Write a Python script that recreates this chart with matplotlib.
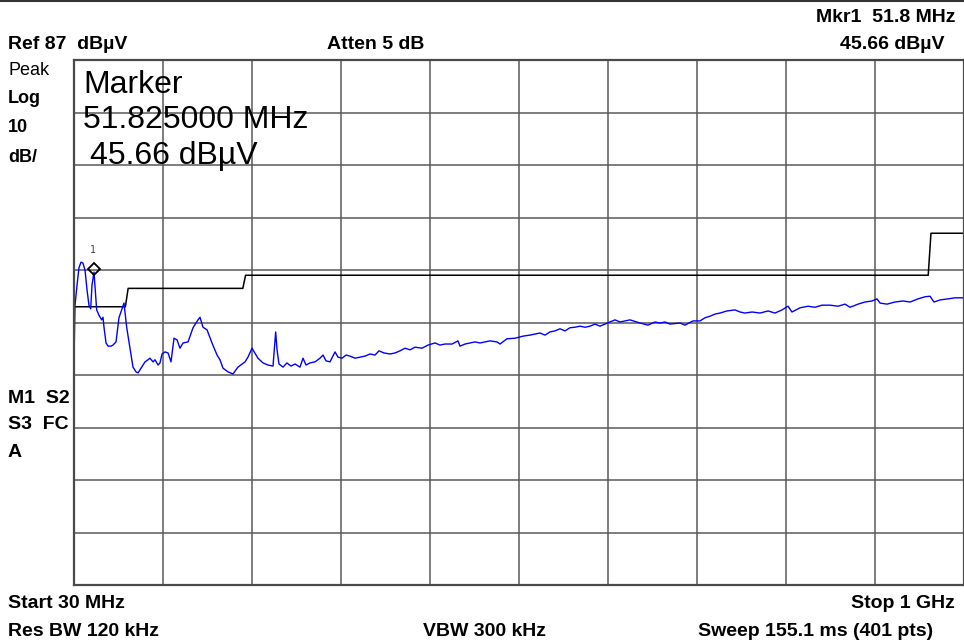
import matplotlib
matplotlib.use("Agg")
import matplotlib.pyplot as plt

plt.rcParams['font.family'] = ['Liberation Sans', 'DejaVu Sans']

# sweep trace (MHz, dBuV)
trace_freq = [30, 31.1, 33.3, 35.4, 37.6, 39.8, 42.0, 44.2, 46.3, 48.2, 49.6, 51.8,
              54.7, 57.2, 60.2, 61.6, 62.7, 64.9, 67.1, 70.3, 72.5, 75.8, 79.0, 81.2,
              84.5, 87.4, 91.0, 94.3, 97.6, 99.8, 103.8, 107.4, 110.7, 112.8, 116.1,
              118.3, 121.6, 123.7, 125.9, 129.2, 132.5, 135.7, 139.0, 142.3, 145.5,
              148.8, 154.3, 159.7, 165.1, 167.3, 170.6, 175.0, 180.4, 185.9, 189.1,
              192.4, 197.8, 203.3, 208.7, 216.4, 219.6, 224.0, 230.5, 236.0, 241.4,
              246.9, 249.8, 251.3, 253.4, 257.8, 262.1, 266.5, 270.9, 276.3, 279.6,
              282.9, 287.2, 292.7, 298.1, 301.4, 304.7, 309.0, 314.5, 317.7, 322.1,
              326.5, 330.8, 336.3, 341.7, 347.2, 352.6, 358.1, 362.4, 367.9, 374.4,
              379.9, 385.3, 390.8, 396.2, 401.7, 409.3, 415.8, 423.5, 428.9, 434.4,
              442.0, 448.5, 450.7, 456.2, 461.6, 467.1, 472.5, 478.0, 483.4, 491.0,
              494.3, 501.9, 510.6, 519.4, 527.0, 537.9, 543.3, 548.8, 554.2, 559.7,
              565.1, 570.6, 576.0, 581.5, 587.0, 592.4, 597.8, 603.3, 608.7, 614.2,
              619.6, 625.1, 630.5, 636.0, 646.9, 655.6, 663.2, 668.7, 674.1, 679.6,
              690.5, 695.9, 704.6, 712.3, 717.7, 723.2, 728.6, 734.1, 741.7, 750.4,
              755.9, 761.3, 769.0, 777.7, 786.4, 794.0, 801.7, 808.2, 812.5, 821.3,
              830.0, 837.6, 845.3, 854.0, 862.7, 870.3, 875.8, 884.5, 892.1, 899.7,
              905.2, 908.5, 916.1, 924.8, 933.5, 941.2, 949.9, 957.5, 963.0, 967.3,
              973.9, 982.6, 990.2, 1000]
trace_level = [29.9, 40.3, 44.1, 47.4, 48.5, 48.3, 47.0, 43.2, 40.3, 39.6, 44.1, 46.6,
               39.4, 38.4, 37.5, 38.0, 36.1, 33.1, 32.5, 32.5, 32.7, 33.3, 37.9, 39.0,
               40.7, 36.1, 32.1, 28.5, 27.6, 27.4, 28.5, 29.5, 29.9, 30.2, 29.5,
               29.9, 28.9, 29.3, 31.0, 31.4, 31.2, 29.5, 34.0, 33.7, 32.1,
               33.1, 33.3, 36.0, 37.5, 38.0, 36.1, 35.6, 33.1, 30.8, 29.9,
               28.3, 27.6, 27.2, 28.5, 29.5, 30.4, 32.1, 30.2, 29.3, 28.9,
               28.7, 35.2, 31.8, 29.1, 28.5, 29.3, 28.7, 29.1, 28.5, 30.2,
               28.9, 29.3, 29.5, 30.2, 30.8, 29.7, 29.5, 31.4, 30.4, 30.2,
               30.8, 30.6, 30.2, 30.4, 30.6, 31.0, 30.8, 31.6, 31.2, 31.0,
               31.2, 31.6, 32.1, 31.8, 32.3, 32.1, 32.7, 33.1, 32.7, 32.9,
               32.9, 33.5, 32.5, 32.9, 33.1, 33.3, 33.1, 33.3, 33.5, 33.3,
               32.9, 33.9, 34.0, 34.4, 34.6, 35.0, 34.6, 35.2, 35.4, 35.8,
               35.4, 36.0, 36.1, 36.3, 36.1, 36.3, 36.7, 36.3, 36.7, 37.1,
               37.5, 37.1, 37.3, 37.5, 36.9, 36.5, 37.1, 36.9, 37.1, 36.7,
               36.9, 36.5, 37.3, 37.3, 37.9, 38.2, 38.6, 38.8, 39.2, 39.4,
               39.0, 38.8, 39.0, 38.8, 39.2, 38.8, 39.4, 40.1, 39.0, 39.8,
               40.1, 39.9, 40.3, 40.3, 40.1, 40.5, 39.9, 40.5, 40.9, 41.1,
               41.5, 40.7, 40.5, 40.9, 41.1, 40.9, 41.5, 41.9, 42.0, 40.9,
               41.3, 41.5, 41.7, 41.7]

# limit line (class B style steps)
limit_freq = [30, 86, 89, 214, 217, 961, 964, 1000]
limit_level = [40, 40, 43.5, 43.5, 46, 46, 54, 54]

# marker 1
mkr_freq = 51.825
mkr_level = 45.66

ref_level = 87
db_per_div = 10
start_mhz = 30
stop_mhz = 1000

W, H = 964, 643
fig = plt.figure(figsize=(W / 100, H / 100), dpi=100)
ax = fig.add_axes([74 / W, 58 / H, 890 / W, 525 / H])

ax.set_xlim(start_mhz, stop_mhz)
ax.set_ylim(ref_level - 10 * db_per_div, ref_level)
span = (stop_mhz - start_mhz) / 10
ax.set_xticks([start_mhz + span * i for i in range(11)])
ax.set_yticks([ref_level - db_per_div * i for i in range(11)])
ax.tick_params(length=0, labelbottom=False, labelleft=False)
ax.grid(True, color='#5a5a5a', linewidth=1.1)
ax.set_axisbelow(True)
for s in ax.spines.values():
    s.set_color('#4a4a4a')
    s.set_linewidth(1.6)

ax.plot(limit_freq, limit_level, color='black', linewidth=1.1)
ax.plot(trace_freq, trace_level, color='#0000ff', linewidth=1.0)

# marker diamond and its number
ax.plot([mkr_freq], [mkr_level], marker='D', markersize=6.5, markerfacecolor='none',
        markeredgecolor='black', markeredgewidth=1.3, linestyle='none',
        transform=ax.transData + matplotlib.transforms.ScaledTranslation(0, 8 / 100, fig.dpi_scale_trans))
ax.annotate('1', (mkr_freq, mkr_level), xytext=(-1, 24), textcoords='offset pixels',
            ha='center', va='baseline', fontsize=7, color='#444444', family='DejaVu Sans Mono')

# big marker readout inside the graticule
fig.text(83 / W, 1 - 93 / H, 'Marker', fontsize=23, va='baseline')
fig.text(83 / W, 1 - 128 / H, '51.825000 MHz', fontsize=23, va='baseline')
fig.text(90 / W, 1 - 164 / H, '45.66 dBµV', fontsize=23, va='baseline')


def label(x, y, s, bold=True, ha='left', size=14):
    fig.text(x / W, 1 - y / H, s, ha=ha, va='baseline', fontsize=size,
             fontweight='bold' if bold else 'normal')


label(8, 49, 'Ref 87  dBµV')
label(327, 49, 'Atten 5 dB')
label(955, 22, 'Mkr1  51.8 MHz', ha='right')
label(945, 49, '45.66 dBµV', ha='right')
label(8, 75, 'Peak', bold=False, size=13)
label(8, 103, 'Log', size=13)
label(8, 132, '10', size=13)
label(8, 162, 'dB/', size=13)
label(8, 403, 'M1  S2')
label(8, 429, 'S3  FC')
label(8, 457, 'A')
label(8, 608, 'Start 30 MHz')
label(8, 636, 'Res BW 120 kHz')
label(423, 636, 'VBW 300 kHz')
label(955, 608, 'Stop 1 GHz', ha='right')
label(933, 636, 'Sweep 155.1 ms (401 pts)', ha='right')

# frame line at the very top of the screen
fig.add_artist(plt.Line2D([0, 1], [1 - 1 / H, 1 - 1 / H], color='#333333', linewidth=1.5))

plt.savefig('out.png', dpi=100)
